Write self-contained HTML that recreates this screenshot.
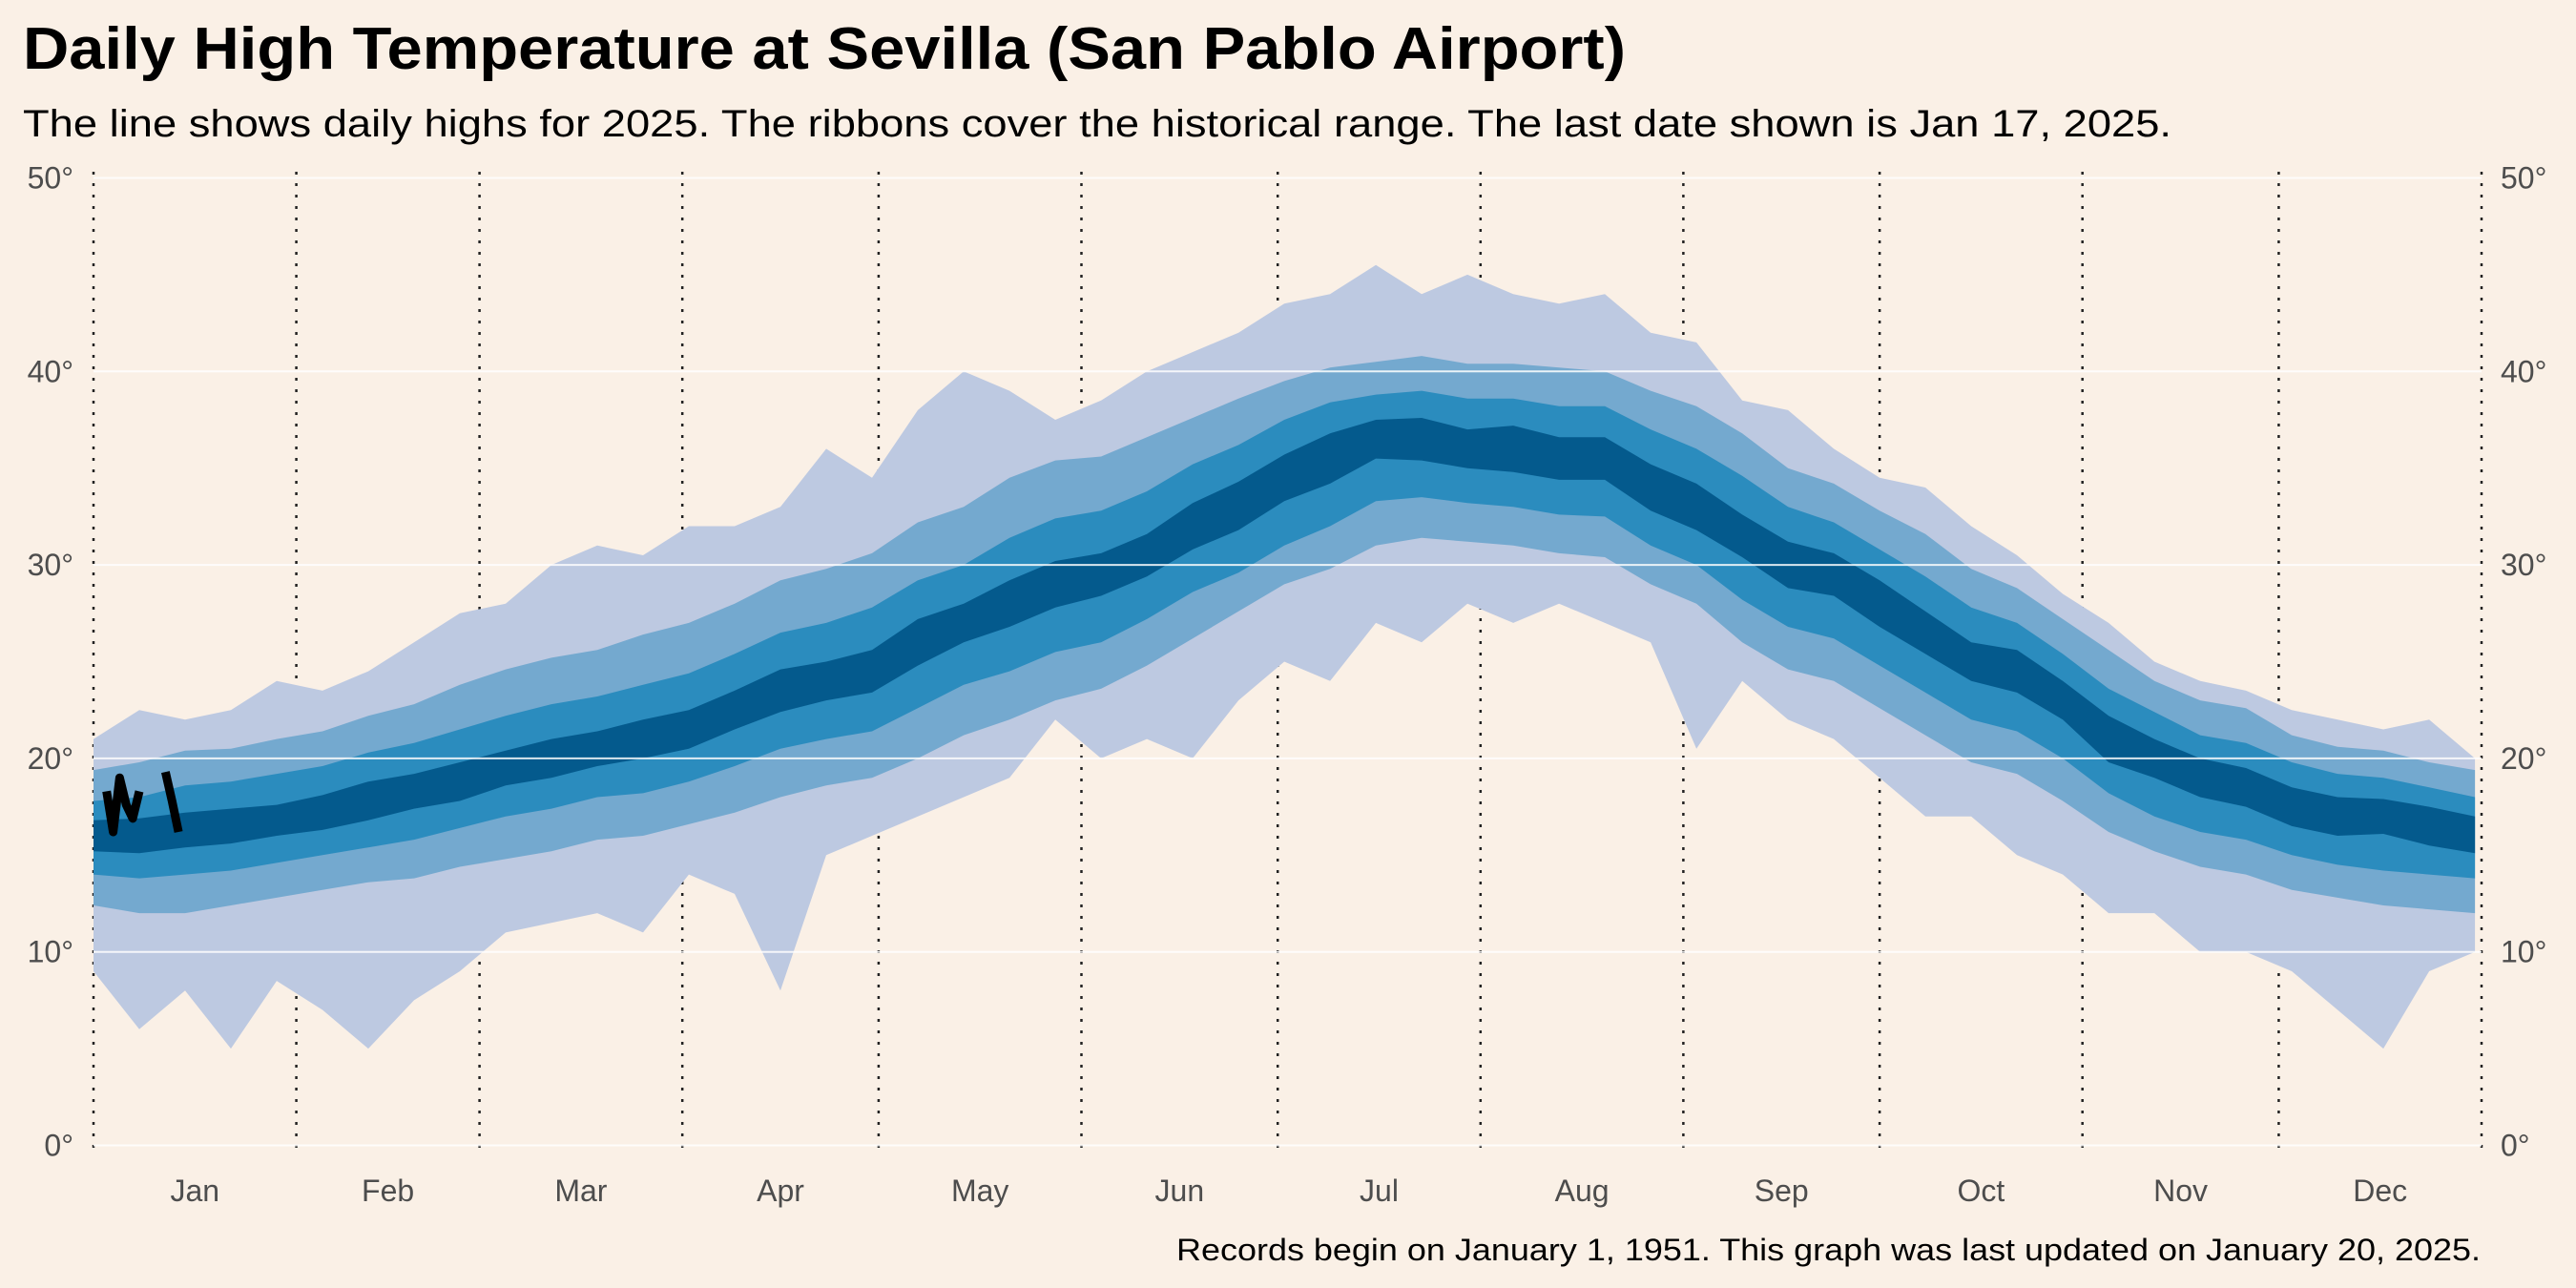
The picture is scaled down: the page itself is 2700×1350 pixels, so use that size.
<!DOCTYPE html>
<html><head><meta charset="utf-8"><style>
html,body{margin:0;padding:0;background:#faf0e6;}
svg{display:block;font-family:"Liberation Sans",sans-serif;}
</style></head><body>
<svg id="chart" width="2700" height="1350" viewBox="0 0 2700 1350" xmlns="http://www.w3.org/2000/svg">
<rect x="0" y="0" width="2700" height="1350" fill="#faf0e6"/>
<text x="24" y="72" font-size="62" font-weight="bold" fill="#000" textLength="1680" lengthAdjust="spacingAndGlyphs">Daily High Temperature at Sevilla (San Pablo Airport)</text>
<text x="24" y="143" font-size="40" fill="#000" textLength="2252" lengthAdjust="spacingAndGlyphs">The line shows daily highs for 2025. The ribbons cover the historical range. The last date shown is Jan 17, 2025.</text>
<text x="2600" y="1321" font-size="32" fill="#000" text-anchor="end" textLength="1367" lengthAdjust="spacingAndGlyphs">Records begin on January 1, 1951. This graph was last updated on January 20, 2025.</text>
<g id="vlines"></g>
<g id="ribbons"></g>
<g id="grid"></g>
<g id="line"></g>
<g id="yleft"></g>
<g id="yright"></g>
<g id="xaxis"></g>
</svg>
<script>
const monthLabels = ["Jan","Feb","Mar","Apr","May","Jun","Jul","Aug","Sep","Oct","Nov","Dec"];
const monthStarts = [0,31,59,90,120,151,181,212,243,273,304,334,365];
const yTicks = [0,10,20,30,40,50];
const weekDays = [0,7,14,21,28,35,42,49,56,63,70,77,84,91,98,105,112,119,126,133,140,147,154,161,168,175,182,189,196,203,210,217,224,231,238,245,252,259,266,273,280,287,294,301,308,315,322,329,336,343,350,357,364];
const recMax = [21,22.5,22,22.5,24,23.5,24.5,26,27.5,28,30,31,30.5,32,32,33,36,34.5,38,40,39,37.5,38.5,40,41,42,43.5,44,45.5,44,45,44,43.5,44,42,41.5,38.5,38,36,34.5,34,32,30.5,28.5,27,25,24,23.5,22.5,22,21.5,22,20];
const p90 = [19.4,19.8,20.4,20.5,21,21.4,22.2,22.8,23.8,24.6,25.2,25.6,26.4,27,28,29.2,29.8,30.6,32.2,33,34.5,35.4,35.6,36.6,37.6,38.6,39.5,40.2,40.5,40.8,40.4,40.4,40.2,40,39,38.2,36.8,35,34.2,32.8,31.6,29.8,28.8,27.2,25.6,24,23,22.6,21.2,20.6,20.4,19.8,19.4];
const p75 = [17.8,18,18.6,18.8,19.2,19.6,20.3,20.8,21.5,22.2,22.8,23.2,23.8,24.4,25.4,26.5,27,27.8,29.2,30,31.4,32.4,32.8,33.8,35.2,36.2,37.5,38.4,38.8,39,38.6,38.6,38.2,38.2,37,36,34.6,33,32.2,30.8,29.4,27.8,27,25.4,23.6,22.4,21.2,20.8,19.8,19.2,19,18.5,18];
const p60 = [16.8,16.9,17.2,17.4,17.6,18.1,18.8,19.2,19.8,20.4,21,21.4,22,22.5,23.5,24.6,25,25.6,27.2,28,29.2,30.2,30.6,31.6,33.2,34.3,35.7,36.8,37.5,37.6,37,37.2,36.6,36.6,35.2,34.2,32.6,31.2,30.6,29.2,27.6,26,25.6,24,22.2,21,20,19.5,18.5,18,17.9,17.5,17];
const p40 = [15.2,15.1,15.4,15.6,16,16.3,16.8,17.4,17.8,18.6,19,19.6,20,20.5,21.5,22.4,23,23.4,24.8,26,26.8,27.8,28.4,29.4,30.8,31.8,33.3,34.2,35.5,35.4,35,34.8,34.4,34.4,32.8,31.8,30.4,28.8,28.4,26.8,25.4,24,23.4,22,19.8,19,18,17.5,16.5,16,16.1,15.5,15.1];
const p25 = [14,13.8,14,14.2,14.6,15,15.4,15.8,16.4,17,17.4,18,18.2,18.8,19.6,20.5,21,21.4,22.6,23.8,24.5,25.5,26,27.2,28.6,29.6,31,32,33.3,33.5,33.2,33,32.6,32.5,31,30,28.2,26.8,26.2,24.8,23.4,22,21.4,20,18.2,17,16.2,15.8,15,14.5,14.2,14,13.8];
const p10 = [12.4,12,12,12.4,12.8,13.2,13.6,13.8,14.4,14.8,15.2,15.8,16,16.6,17.2,18,18.6,19,20,21.2,22,23,23.6,24.8,26.2,27.6,29,29.8,31,31.4,31.2,31,30.6,30.4,29,28,26,24.6,24,22.6,21.2,19.8,19.2,17.8,16.2,15.2,14.4,14,13.2,12.8,12.4,12.2,12];
const recMin = [9,6,8,5,8.5,7,5,7.5,9,11,11.5,12,11,14,13,8,15,16,17,18,19,22,20,21,20,23,25,24,27,26,28,27,28,27,26,20.5,24,22,21,19,17,17,15,14,12,12,10,10,9,7,5,9,10];
const days2025 = [2,3,4,5,6,7,11,12,13];
const temps2025 = [18.3,16.2,19,17.6,16.9,18.3,19.3,17.8,16.2];

const NS = "http://www.w3.org/2000/svg";
const X0 = 98, X1 = 2601, Y0 = 1200.5, PPD = 20.28;
function xScale(d){ return X0 + d * (X1 - X0) / 365; }
function yScale(t){ return Y0 - t * PPD; }
function mk(tag, attrs, parent){ const e = document.createElementNS(NS, tag); for (const k in attrs) e.setAttribute(k, attrs[k]); parent.appendChild(e); return e; }

const gv = document.getElementById('vlines');
monthStarts.forEach((d) => {
  const l = mk('line', {x1:xScale(d), x2:xScale(d), y1:180, y2:1212, stroke:'#222', 'stroke-width':2.5, 'stroke-dasharray':'3 9'}, gv);
  
  
});

const gr = document.getElementById('ribbons');
function band(lo, hi, color, name){
  let d = '';
  weekDays.forEach((day,i) => { d += (i ? 'L' : 'M') + xScale(day).toFixed(1) + ',' + yScale(hi[i]).toFixed(1); });
  for (let i = weekDays.length - 1; i >= 0; i--) d += 'L' + xScale(weekDays[i]).toFixed(1) + ',' + yScale(lo[i]).toFixed(1);
  const p = mk('path', {d: d + 'Z', fill: color}, gr);
  
  
}
band(recMin, recMax, '#bdc9e1', 'ribbon-record-range');
band(p10, p90, '#74a9cf', 'ribbon-10-90');
band(p25, p75, '#2b8cbe', 'ribbon-25-75');
band(p40, p60, '#045a8d', 'ribbon-40-60');

const gg = document.getElementById('grid');
const gl = document.getElementById('yleft');
const grr = document.getElementById('yright');
yTicks.forEach(t => {
  const l = mk('line', {x1:X0, x2:X1, y1:yScale(t), y2:yScale(t), stroke:'#ffffff', 'stroke-width':2, opacity:0.85}, gg);
  
  
  const a = mk('text', {x:77, y:yScale(t)+11, 'font-size':32, fill:'#4d4d4d', 'text-anchor':'end'}, gl);
  a.textContent = t + '°';
  
  
  const b = mk('text', {x:2621, y:yScale(t)+11, 'font-size':32, fill:'#4d4d4d'}, grr);
  b.textContent = t + '°';
  
  
});

const gx = document.getElementById('xaxis');
monthLabels.forEach((m,i) => {
  const t = mk('text', {x:xScale((monthStarts[i]+monthStarts[i+1])/2), y:1259, 'font-size':32, fill:'#4d4d4d', 'text-anchor':'middle'}, gx);
  t.textContent = m;
  
  
});

const gline = document.getElementById('line');
let segs = [], cur = [];
days2025.forEach((d,i) => {
  if (i > 0 && d - days2025[i-1] > 1) { segs.push(cur); cur = []; }
  cur.push([xScale(d), yScale(temps2025[i])]);
});
segs.push(cur);
segs.forEach(s => {
  const p = mk('polyline', {points: s.map(q => q[0].toFixed(1)+','+q[1].toFixed(1)).join(' '), fill:'none', stroke:'#000', 'stroke-width':9, 'stroke-linejoin':'round', 'stroke-linecap':'butt'}, gline);
  
  
});
</script>
</body></html>
